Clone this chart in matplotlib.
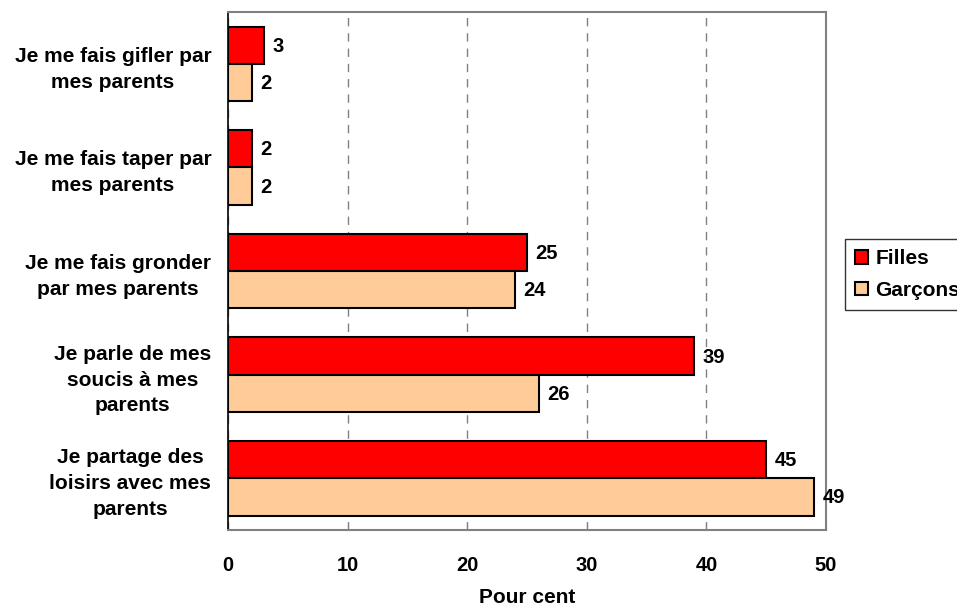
import matplotlib.pyplot as plt
import numpy as np

plt.rcParams['font.family'] = ['Liberation Sans', 'DejaVu Sans']
plt.rcParams['font.weight'] = 'bold'

categories = [
    "Je me fais gifler par\nmes parents",
    "Je me fais taper par\nmes parents",
    "Je me fais gronder\npar mes parents",
    "Je parle de mes\nsoucis à mes\nparents",
    "Je partage des\nloisirs avec mes\nparents",
]
filles = [3, 2, 25, 39, 45]
garcons = [2, 2, 24, 26, 49]
xticks = [0, 10, 20, 30, 40, 50]

fig = plt.figure(figsize=(9.57, 6.10), dpi=100)
ax = fig.add_axes([0.2382, 0.1311, 0.6249, 0.8492])

y = np.arange(len(categories))
h = 0.36
b1 = ax.barh(y - h / 2, filles, height=h, color='#FF0000', edgecolor='black',
             linewidth=1.5, label='Filles', zorder=3)
b2 = ax.barh(y + h / 2, garcons, height=h, color='#FFCC99', edgecolor='black',
             linewidth=1.5, label='Garçons', zorder=3)

for bars, vals in ((b1, filles), (b2, garcons)):
    for bar, v in zip(bars, vals):
        ax.text(v + 0.7, bar.get_y() + bar.get_height() / 2 + 0.01, str(v),
                va='center', ha='left', fontsize=14.5, fontweight='bold')

ax.set_xlim(0, 50)
ax.set_ylim(len(categories) - 0.5, -0.5)
ax.set_xticks(xticks)
ax.set_yticks(y)
ax.set_yticklabels(categories, fontsize=15, fontweight='bold',
                   multialignment='center', linespacing=1.45)
ax.tick_params(axis='y', length=0, pad=12)
ax.tick_params(axis='x', direction='in', length=6, color='#808080', pad=19, labelsize=14.5)
ax.set_xlabel('Pour cent', fontsize=15, fontweight='bold', labelpad=9)

ax.xaxis.grid(True, linestyle=(0, (6, 5)), color='#808080', linewidth=1, zorder=0)
for side in ('top', 'right', 'bottom'):
    ax.spines[side].set_color('#808080')
    ax.spines[side].set_linewidth(1.5)
ax.spines['left'].set_color('black')
ax.spines['left'].set_linewidth(1.2)

leg = fig.legend(handles=[b1, b2], loc='upper left',
                 bbox_to_anchor=(845 / 957, 1 - 239 / 610),
                 fontsize=15, frameon=True, fancybox=False,
                 handlelength=0.6, handleheight=0.6, handletextpad=0.35,
                 borderpad=0.5, labelspacing=0.6, borderaxespad=0)
leg.get_frame().set_edgecolor('black')
leg.get_frame().set_linewidth(1)
for t in leg.get_texts():
    t.set_fontweight('bold')

fig.savefig('out.png', dpi=100)
